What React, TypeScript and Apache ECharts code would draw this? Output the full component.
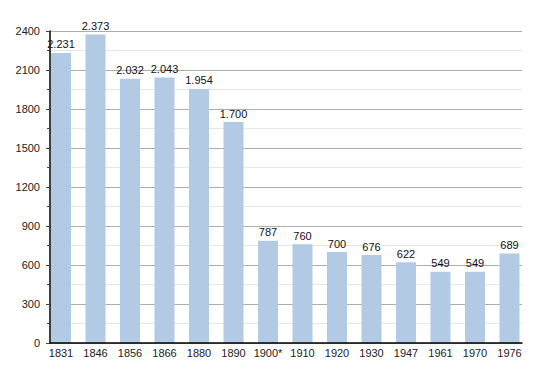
import React, { useEffect, useRef } from "react";
import * as echarts from "echarts";

const categories = ["1831", "1846", "1856", "1866", "1880", "1890", "1900*", "1910", "1920", "1930", "1947", "1961", "1970", "1976"];
const population = [2231, 2373, 2032, 2043, 1954, 1700, 787, 760, 700, 676, 622, 549, 549, 689];
const valueLabels = ["2.231", "2.373", "2.032", "2.043", "1.954", "1.700", "787", "760", "700", "676", "622", "549", "549", "689"];

const FONT = "Liberation Sans, Arial, sans-serif";

export default function App() {
  const ref = useRef<HTMLDivElement>(null);
  useEffect(() => {
    const chart = echarts.init(ref.current!, null, { renderer: "svg" });
    chart.setOption({
      animation: false,
      grid: [
        { left: 50, right: 28, top: 31, bottom: 30, containLabel: false },
        { left: 43.75, right: 23.25, top: 31, bottom: 30, containLabel: false },
      ],
      xAxis: [
        {
          gridIndex: 0,
          type: "category",
          data: categories,
          axisLine: { show: true, lineStyle: { color: "#000", width: 1.5 } },
          axisTick: { show: false },
          axisLabel: { show: false },
          z: 5,
        },
        {
          gridIndex: 1,
          type: "category",
          data: categories,
          axisLine: { show: false },
          axisTick: { show: false },
          axisLabel: { color: "#222", fontSize: 11, fontFamily: FONT, margin: 4, interval: 0 },
        },
      ],
      yAxis: [
        {
          gridIndex: 0,
          type: "value",
          min: 0,
          max: 2400,
          interval: 300,
          axisLine: { show: true, lineStyle: { color: "#000", width: 1.5 } },
          axisTick: { show: true, length: 4, lineStyle: { color: "#444" } },
          minorTick: { show: true, splitNumber: 2, length: 3, lineStyle: { color: "#444" } },
          axisLabel: { color: "#222", fontSize: 11, fontFamily: FONT, margin: 10, formatter: (v: number) => String(v) },
          splitLine: { show: true, lineStyle: { color: "#adadad", width: 1 } },
          minorSplitLine: { show: true, lineStyle: { color: "#e6e6e6", width: 1 } },
        },
        {
          gridIndex: 1,
          type: "value",
          min: 0,
          max: 2400,
          interval: 300,
          show: false,
          splitLine: { show: false },
        },
      ],
      series: [
        {
          type: "bar",
          xAxisIndex: 1,
          yAxisIndex: 1,
          data: population,
          barWidth: 20,
          itemStyle: { color: "#b2cae3" },
          label: {
            show: true,
            position: "top",
            distance: 3,
            color: "#111",
            fontSize: 11,
            fontFamily: FONT,
            formatter: (p: any) => valueLabels[p.dataIndex],
          },
        },
      ],
    });
    return () => chart.dispose();
  }, []);
  return <div ref={ref} style={{ width: 550, height: 373, position: "absolute", left: 0, top: 0 }} />;
}
